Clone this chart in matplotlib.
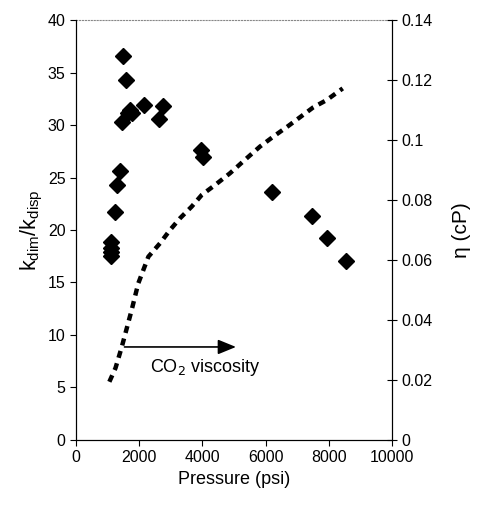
import matplotlib.pyplot as plt

plt.rcParams['font.family'] = ['Liberation Sans', 'DejaVu Sans']

# k_dim/k_disp measurements
pressure = [1500, 1580, 1640, 1760, 1450, 1710, 2150, 2760, 2640, 3950, 4030,
            1390, 1310, 1230, 1100, 1100, 1100, 1100, 6200, 7460, 7930, 8530]
k_ratio = [36.6, 34.3, 31.1, 31.1, 30.3, 31.4, 31.9, 31.8, 30.6, 27.6, 27.0,
           25.6, 24.3, 21.7, 18.9, 18.3, 17.9, 17.5, 23.6, 21.3, 19.2, 17.0]

# CO2 viscosity curve
visc_p = [1055, 1250, 1445, 1600, 1760, 1970, 2290, 2660, 2975, 3290, 3660,
          3980, 4400, 4870, 5400, 5820, 6240, 6720, 7140, 7510, 7930, 8440]
visc = [0.0194, 0.024, 0.0309, 0.037, 0.0433, 0.0522, 0.0611, 0.0656, 0.070,
        0.0739, 0.0778, 0.0817, 0.085, 0.0889, 0.0939, 0.0978, 0.1011, 0.1047,
        0.108, 0.1109, 0.1133, 0.1172]

fig = plt.figure(figsize=(4.79, 5.08), dpi=100)
ax = fig.add_axes([0.1587, 0.1339, 0.6597, 0.8267])
ax.plot(pressure, k_ratio, 'D', color='black', markersize=8, zorder=3)
ax.set_xlim(0, 10000)
ax.set_ylim(0, 40)
ax.set_xticks(range(0, 10001, 2000))
ax.set_yticks(range(0, 41, 5))
ax.set_xlabel('Pressure (psi)', fontsize=13)
ax.set_ylabel('k$_{\\mathregular{dim}}$/k$_{\\mathregular{disp}}$', fontsize=15.5, labelpad=2)
ax.tick_params(labelsize=11.5, direction='out', length=4, color='black')
ax.spines['top'].set_color('#888888')
ax.spines['top'].set_linestyle(':')

ax.annotate('', xy=(5150, 8.86), xytext=(1445, 8.86),
            arrowprops=dict(arrowstyle='-|>,head_length=1.1,head_width=0.45',
                            color='black', lw=1.2))
ax.text(2340, 6.9, 'CO$_2$ viscosity', fontsize=13, va='center', ha='left')

ax2 = ax.twinx()
ax2.plot(visc_p, visc, color='black', linewidth=3.2, linestyle=(0, (1.6, 1.3)))
ax2.set_ylim(0, 0.14)
ax2.set_yticks([0, 0.02, 0.04, 0.06, 0.08, 0.1, 0.12, 0.14])
ax2.set_yticklabels(['0', '0.02', '0.04', '0.06', '0.08', '0.1', '0.12', '0.14'])
ax2.tick_params(labelsize=11.5, direction='inout', length=7)
ax2.set_ylabel('η (cP)', fontsize=15, labelpad=14)
ax2.spines['top'].set_visible(False)

plt.savefig('out.png', dpi=100)
